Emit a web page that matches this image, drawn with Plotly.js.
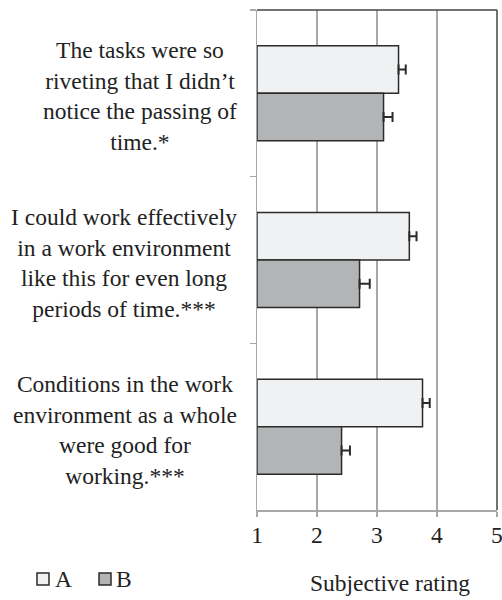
<!DOCTYPE html>
<html>
<head>
<meta charset="utf-8">
<script src="https://cdn.plot.ly/plotly-3.0.1.min.js"></script>
<style>html,body{margin:0;padding:0;background:#fff;}#chart{width:502px;height:600px;}</style>
</head>
<body>
<div id="chart"></div>
<script>
var categories = [
  "The tasks were so<br>riveting that I didn\u2019t<br>notice the passing of<br>time.*",
  "I could work effectively<br>in a work environment<br>like this for even long<br>periods of time.***",
  "Conditions in the work<br>environment as a whole<br>were good for<br>working.***"
];
var catKeys = ["Q1", "Q2", "Q3"];
var valuesA = [3.36, 3.54, 3.76];
var errorsA = [0.12, 0.12, 0.12];
var valuesB = [3.11, 2.71, 2.41];
var errorsB = [0.15, 0.17, 0.14];
var seriesNames = ["A", "B"];
var seriesColors = ["#f0f1f3", "#b3b4b6"];
var xTicks = [1, 2, 3, 4, 5];
var xTitle = "Subjective rating";
var baseValue = 1;

var font = "Liberation Serif";
var fs = 23.5;
var dark = "#2b2b2b";
var textColor = "#222";

function lengths(vals) { return vals.map(function (v) { return v - baseValue; }); }
function zeros(vals) { return vals.map(function () { return 0; }); }

var traces = [
  {
    type: "bar", orientation: "h", name: seriesNames[0],
    y: catKeys, x: lengths(valuesA), base: baseValue,
    marker: { color: seriesColors[0], line: { color: dark, width: 1.5 } },
    error_x: { type: "data", symmetric: false, array: errorsA, arrayminus: zeros(errorsA), color: dark, thickness: 2, width: 5 }
  },
  {
    type: "bar", orientation: "h", name: seriesNames[1],
    y: catKeys, x: lengths(valuesB), base: baseValue,
    marker: { color: seriesColors[1], line: { color: dark, width: 1.5 } },
    error_x: { type: "data", symmetric: false, array: errorsB, arrayminus: zeros(errorsB), color: dark, thickness: 2, width: 5 }
  }
];

var annotations = catKeys.map(function (k, i) {
  return {
    xref: "paper", yref: "y", x: -0.075, y: k, xanchor: "right", yanchor: "middle",
    text: categories[i], align: "center", showarrow: false, yshift: -3,
    font: { family: font, size: fs, color: textColor }
  };
});
annotations.push({
  xref: "paper", yref: "paper", x: 0.553, y: -0.146, xanchor: "center", yanchor: "middle",
  text: xTitle, showarrow: false, font: { family: font, size: fs, color: textColor }
});

// custom legend (boxes + labels)
var legendBoxX = [[-0.9167, -0.8667], [-0.6583, -0.6083]];
var legendTextX = [-0.852, -0.594];
var shapes = [
  { type: "line", xref: "paper", yref: "paper", x0: 0, x1: 1, y0: 1, y1: 1, line: { color: "#444", width: 1.5 } },
  { type: "line", xref: "paper", yref: "paper", x0: 1, x1: 1, y0: 0, y1: 1, line: { color: "#444", width: 1.5 } }
];
seriesNames.forEach(function (n, i) {
  shapes.push({
    type: "rect", xref: "paper", yref: "paper",
    x0: legendBoxX[i][0], x1: legendBoxX[i][1], y0: -0.15, y1: -0.126,
    fillcolor: seriesColors[i], line: { color: dark, width: 1.5 }
  });
  annotations.push({
    xref: "paper", yref: "paper", x: legendTextX[i], y: -0.138, xanchor: "left", yanchor: "middle",
    text: n, showarrow: false, font: { family: font, size: fs, color: textColor }
  });
});

var layout = {
  width: 502, height: 600,
  margin: { l: 257, r: 5, t: 10, b: 90 },
  paper_bgcolor: "#fff", plot_bgcolor: "#fff",
  font: { family: font, color: textColor },
  barmode: "group", bargap: 0.43, bargroupgap: 0,
  showlegend: false,
  xaxis: {
    range: [1, 5.002], tickvals: xTicks, ticktext: xTicks.map(String),
    showgrid: true, gridcolor: "#a8a8a8", gridwidth: 1.5,
    showline: true, linecolor: "#a8a8a8", linewidth: 1.5,
    ticks: "outside", ticklen: 5, tickcolor: "#a8a8a8", tickwidth: 1.5,
    ticklabelstandoff: -2,
    ticklabeloverflow: "allow",
    zeroline: false,
    tickfont: { family: font, size: fs, color: textColor }
  },
  yaxis: {
    type: "category", categoryarray: catKeys, autorange: "reversed",
    showticklabels: false, tickson: "boundaries",
    ticks: "outside", ticklen: 6, tickcolor: "#a8a8a8", tickwidth: 1.5,
    showline: true, linecolor: "#a8a8a8", linewidth: 1.5,
    showgrid: false, zeroline: false
  },
  shapes: shapes,
  annotations: annotations
};

Plotly.newPlot("chart", traces, layout, { displayModeBar: false, staticPlot: true });
</script>
</body>
</html>
